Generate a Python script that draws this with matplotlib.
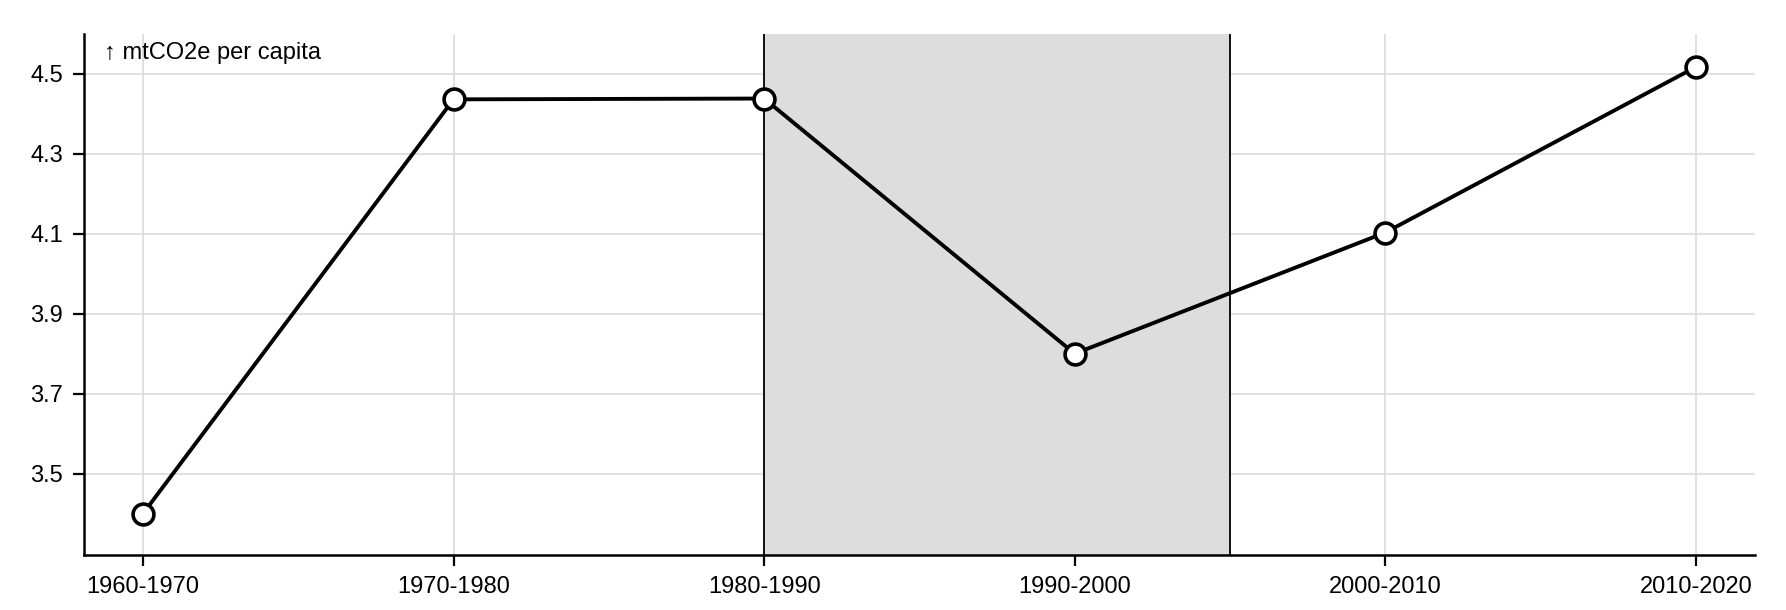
import matplotlib
matplotlib.use("Agg")
import matplotlib.pyplot as plt

plt.rcParams['font.family'] = ['Liberation Sans', 'DejaVu Sans']

# decades and per-capita emissions
decades = ['1960-1970', '1970-1980', '1980-1990', '1990-2000', '2000-2010', '2010-2020']
emissions = [3.40, 4.436, 4.438, 3.80, 4.103, 4.517]
yticks = [3.5, 3.7, 3.9, 4.1, 4.3, 4.5]
# highlighted period (category positions)
shade_start = 2
shade_end = 3.5

fig = plt.figure(figsize=(17.86, 6.10), dpi=100)
ax = fig.add_axes([0.047, 0.0907, 0.9356, 0.8533])

x = list(range(len(decades)))

ax.axvspan(shade_start, shade_end, color='#dddddd', zorder=1, lw=0)
ax.axvline(shade_start, color='black', lw=1.3, zorder=2)
ax.axvline(shade_end, color='black', lw=1.3, zorder=2)

ax.plot(x, emissions, color='black', lw=2.8, marker='o', markersize=15,
        markerfacecolor='white', markeredgecolor='black', markeredgewidth=2.6, zorder=3)

ax.set_xticks(x)
ax.set_xticklabels(decades)
ax.set_yticks(yticks)
ax.set_yticklabels([f'{v:.1f}' for v in yticks])
ax.set_xlim(-0.19, 5.19)
ax.set_ylim(3.2975, 4.599)

ax.grid(True, color='#dddddd', lw=1.3, zorder=0)
ax.set_axisbelow(True)
for s in ['top', 'right']:
    ax.spines[s].set_visible(False)
for s in ['left', 'bottom']:
    ax.spines[s].set_linewidth(1.8)
ax.tick_params(axis='both', length=8, width=1.6, labelsize=17, pad=7)

ax.text(0.012, 0.985, '↑ mtCO2e per capita', transform=ax.transAxes,
        fontsize=17, va='top', ha='left')

fig.savefig('out.png', dpi=100)
